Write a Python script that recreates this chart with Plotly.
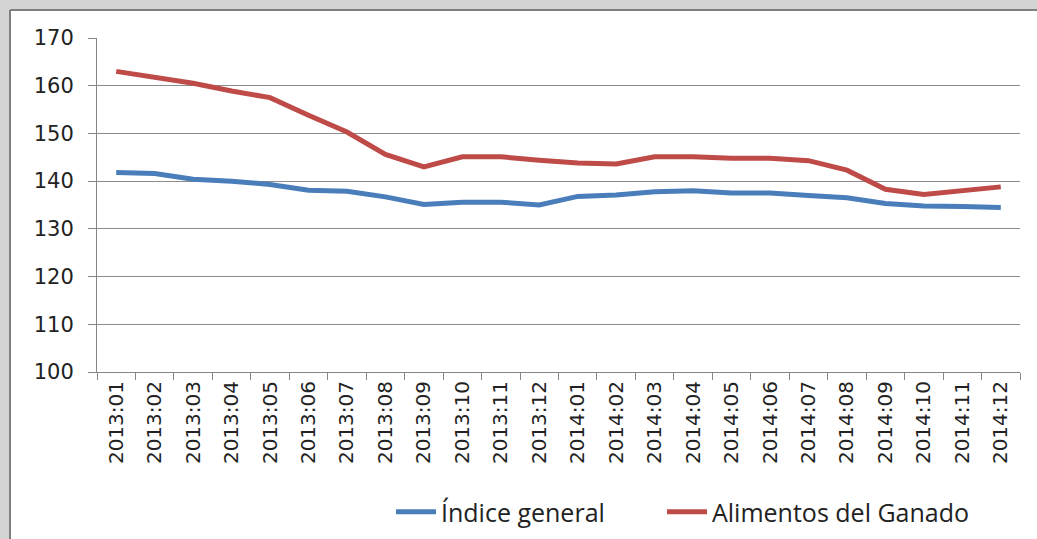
import plotly.graph_objects as go

categories = ["2013:01","2013:02","2013:03","2013:04","2013:05","2013:06","2013:07","2013:08",
              "2013:09","2013:10","2013:11","2013:12","2014:01","2014:02","2014:03","2014:04",
              "2014:05","2014:06","2014:07","2014:08","2014:09","2014:10","2014:11","2014:12"]
indice_general = [141.8,141.6,140.4,140.0,139.3,138.1,137.9,136.7,135.1,135.6,135.6,135.0,
                  136.8,137.1,137.8,138.0,137.5,137.5,137.0,136.5,135.3,134.8,134.7,134.5]
alimentos_ganado = [163.0,161.7,160.5,158.9,157.5,153.8,150.3,145.6,143.0,145.1,145.1,144.4,
                    143.8,143.6,145.1,145.1,144.8,144.8,144.3,142.3,138.3,137.2,137.9,138.8]
y_ticks = [100,110,120,130,140,150,160,170]

W, H = 1037, 539
L, R, T, B = 97, 17, 38, 167
pw, ph = W - L - R, H - T - B

def px(x):
    return (x - L) / pw

def py(y):
    return (H - B - y) / ph

fig = go.Figure()
fig.add_trace(go.Scatter(x=categories, y=indice_general, mode="lines", name="Índice general",
                         line=dict(color="#4A7EBB", width=5), legend="legend"))
fig.add_trace(go.Scatter(x=categories, y=alimentos_ganado, mode="lines", name="Alimentos del Ganado",
                         line=dict(color="#BE4B48", width=5), legend="legend2"))

shapes = [
    dict(type="rect", xref="paper", yref="paper", x0=px(0), x1=px(10), y0=py(H), y1=py(0),
         fillcolor="#d4d4d4", line=dict(width=0), layer="below"),
    dict(type="rect", xref="paper", yref="paper", x0=px(0), x1=px(W), y0=py(10), y1=py(0),
         fillcolor="#d4d4d4", line=dict(width=0), layer="below"),
    dict(type="line", xref="paper", yref="paper", x0=px(10), x1=px(10), y0=py(10), y1=py(H),
         line=dict(color="#7f7f7f", width=2)),
    dict(type="line", xref="paper", yref="paper", x0=px(10), x1=px(W), y0=py(10), y1=py(10),
         line=dict(color="#7f7f7f", width=2)),
]

legend_font = dict(family="Open Sans, Liberation Sans, sans-serif", size=25, color="#222222")

fig.update_layout(
    width=W, height=H,
    margin=dict(l=L, r=R, t=T, b=B, autoexpand=False),
    paper_bgcolor="white", plot_bgcolor="white",
    shapes=shapes,
    showlegend=True,
    legend=dict(orientation="h", x=px(391), y=py(512), xanchor="left", yanchor="middle",
                font=legend_font, itemwidth=40, bgcolor="rgba(0,0,0,0)"),
    legend2=dict(orientation="h", x=px(662), y=py(512), xanchor="left", yanchor="middle",
                 font=legend_font, itemwidth=40, bgcolor="rgba(0,0,0,0)"),
    font=dict(family="DejaVu Sans, sans-serif", color="#222222"),
)
fig.update_xaxes(
    type="category", tickangle=-90, tickfont=dict(size=20),
    showline=True, linecolor="#868686", linewidth=1,
    ticks="outside", tickson="boundaries", ticklen=7, tickcolor="#868686",
    showgrid=False, range=[-0.5, len(categories) - 0.5], automargin=False,
)
fig.update_yaxes(
    range=[100, 170], tickvals=y_ticks, tickfont=dict(size=21),
    showline=True, linecolor="#868686", linewidth=1,
    ticks="outside", ticklen=8, tickcolor="#868686", ticklabelstandoff=10,
    showgrid=True, gridcolor="#8c8c8c", gridwidth=1, zeroline=False, automargin=False,
)

fig.write_html("out.html", config={"displayModeBar": False},
               post_script="document.body.style.margin='0';document.body.style.overflow='hidden';")
